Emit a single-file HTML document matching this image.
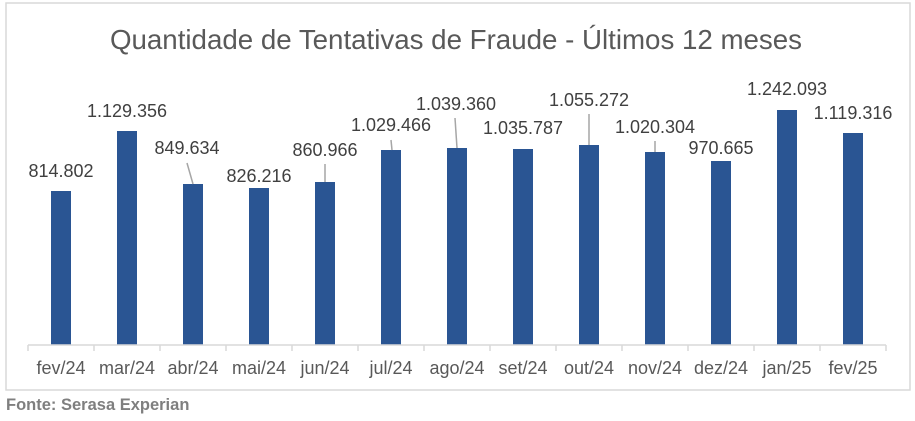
<!DOCTYPE html>
<html><head><meta charset="utf-8"><style>
body{margin:0;background:#fff;}
svg text{font-family:"Liberation Sans",sans-serif;}
</style></head><body>
<svg width="915" height="416" viewBox="0 0 915 416" xmlns="http://www.w3.org/2000/svg">
<rect x="6" y="3" width="904" height="387" fill="#fff" stroke="#d9d9d9" stroke-width="1.5"/>
<text x="456" y="49" text-anchor="middle" font-size="27.7" fill="#595959">Quantidade de Tentativas de Fraude - Últimos 12 meses</text>
<g fill="#2a5593">
<rect x="51" y="191" width="20" height="154"/>
<rect x="117" y="131" width="20" height="214"/>
<rect x="183" y="184" width="20" height="161"/>
<rect x="249" y="188" width="20" height="157"/>
<rect x="315" y="182" width="20" height="163"/>
<rect x="381" y="150" width="20" height="195"/>
<rect x="447" y="148" width="20" height="197"/>
<rect x="513" y="149" width="20" height="196"/>
<rect x="579" y="145" width="20" height="200"/>
<rect x="645" y="152" width="20" height="193"/>
<rect x="711" y="161" width="20" height="184"/>
<rect x="777" y="110" width="20" height="235"/>
<rect x="843" y="133" width="20" height="212"/>
</g>
<g stroke="#d9d9d9" stroke-width="1.5">
<line x1="28" y1="345" x2="886" y2="345"/>
<line x1="28" y1="345" x2="28" y2="351"/><line x1="94" y1="345" x2="94" y2="351"/><line x1="160" y1="345" x2="160" y2="351"/><line x1="226" y1="345" x2="226" y2="351"/><line x1="292" y1="345" x2="292" y2="351"/><line x1="358" y1="345" x2="358" y2="351"/><line x1="424" y1="345" x2="424" y2="351"/><line x1="490" y1="345" x2="490" y2="351"/><line x1="556" y1="345" x2="556" y2="351"/><line x1="622" y1="345" x2="622" y2="351"/><line x1="688" y1="345" x2="688" y2="351"/><line x1="754" y1="345" x2="754" y2="351"/><line x1="820" y1="345" x2="820" y2="351"/><line x1="886" y1="345" x2="886" y2="351"/>
</g>
<g stroke="#a6a6a6" stroke-width="1.5">
<line x1="187" y1="163" x2="193" y2="184"/>
<line x1="325" y1="164" x2="325" y2="182"/>
<line x1="391" y1="140" x2="392" y2="150"/>
<line x1="455" y1="118" x2="457" y2="148"/>
<line x1="589" y1="114" x2="589" y2="145"/>
<line x1="655" y1="141" x2="655" y2="152"/>
</g>
<g font-size="18" fill="#404040" text-anchor="middle">
<text x="61" y="177">814.802</text>
<text x="127" y="117">1.129.356</text>
<text x="187" y="154">849.634</text>
<text x="259" y="182">826.216</text>
<text x="325" y="156">860.966</text>
<text x="391" y="131">1.029.466</text>
<text x="456" y="110">1.039.360</text>
<text x="523" y="134">1.035.787</text>
<text x="589" y="106">1.055.272</text>
<text x="655" y="133">1.020.304</text>
<text x="721" y="154">970.665</text>
<text x="787" y="95">1.242.093</text>
<text x="853" y="119">1.119.316</text>
</g>
<g font-size="18" fill="#595959" text-anchor="middle">
<text x="61" y="374">fev/24</text><text x="127" y="374">mar/24</text><text x="193" y="374">abr/24</text><text x="259" y="374">mai/24</text><text x="325" y="374">jun/24</text><text x="391" y="374">jul/24</text><text x="457" y="374">ago/24</text><text x="523" y="374">set/24</text><text x="589" y="374">out/24</text><text x="655" y="374">nov/24</text><text x="721" y="374">dez/24</text><text x="787" y="374">jan/25</text><text x="853" y="374">fev/25</text>
</g>
<text x="6" y="410" font-size="16.5" font-weight="bold" fill="#7f7f7f">Fonte: Serasa Experian</text>
</svg>
</body></html>
